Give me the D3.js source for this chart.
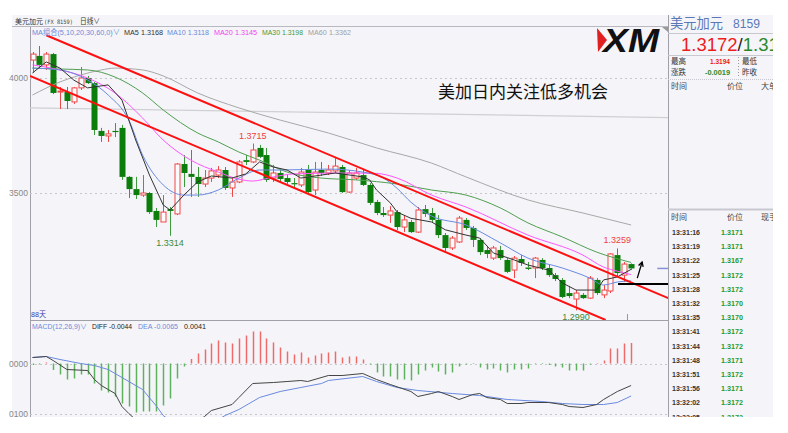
<!DOCTYPE html>
<html><head><meta charset="utf-8">
<script src="https://cdn.jsdelivr.net/npm/d3@7"></script>
<style>
body{margin:0;background:#fff;}
svg{display:block;font-family:"Liberation Sans","Noto Sans CJK SC",sans-serif;}
</style></head><body>
<svg id="c" width="788" height="433"></svg>
<script>
// ---------- DATA ----------
const open = [1.4078,1.4096,1.4057,1.4104,1.3939,1.3939,1.3896,1.3957,1.4000,1.3978,
1.3770,1.3748,1.3770,1.3783,1.3570,1.3517,1.3491,1.3500,1.3422,1.3374,
1.3430,1.3409,1.3626,1.3583,1.3570,1.3539,1.3565,1.3578,1.3600,1.3522,
1.3548,1.3643,1.3635,1.3696,1.3665,1.3565,1.3587,1.3565,1.3543,1.3535,
1.3600,1.3513,1.3600,1.3587,1.3596,1.3613,1.3504,1.3565,1.3578,1.3535,
1.3461,1.3413,1.3404,1.3417,1.3352,1.3374,1.3330,1.3430,1.3413,1.3383,
1.3317,1.3261,1.3287,1.3383,1.3348,1.3296,1.3252,1.3217,1.3252,1.3209,
1.3165,1.3213,1.3176,1.3174,1.3209,1.3174,1.3143,1.3122,1.3065,1.3039,
1.3057,1.3043,1.3122,1.3057,1.3074,1.3230,1.3143,1.3191];
const high = [1.4113,1.4139,1.4113,1.4109,1.3961,1.3961,1.3961,1.4048,1.4009,1.3983,
1.3783,1.3774,1.3804,1.3796,1.3574,1.3570,1.3578,1.3504,1.3435,1.3491,
1.3439,1.3630,1.3665,1.3687,1.3613,1.3600,1.3609,1.3617,1.3613,1.3565,
1.3643,1.3665,1.3715,1.3709,1.3696,1.3622,1.3600,1.3578,1.3565,1.3609,
1.3622,1.3635,1.3635,1.3622,1.3657,1.3622,1.3600,1.3609,1.3600,1.3543,
1.3470,1.3439,1.3443,1.3426,1.3404,1.3383,1.3439,1.3448,1.3435,1.3404,
1.3326,1.3313,1.3400,1.3391,1.3357,1.3304,1.3270,1.3270,1.3270,1.3217,
1.3226,1.3230,1.3200,1.3222,1.3217,1.3187,1.3152,1.3130,1.3096,1.3078,
1.3065,1.3139,1.3130,1.3100,1.3239,1.3259,1.3200,1.3194];
const low = [1.4022,1.4043,1.4035,1.3930,1.3865,1.3865,1.3887,1.3948,1.3974,1.3752,
1.3722,1.3722,1.3743,1.3557,1.3478,1.3474,1.3483,1.3409,1.3352,1.3374,
1.3314,1.3404,1.3526,1.3483,1.3483,1.3526,1.3548,1.3565,1.3513,1.3483,
1.3543,1.3622,1.3630,1.3652,1.3548,1.3548,1.3548,1.3539,1.3522,1.3526,
1.3491,1.3491,1.3574,1.3578,1.3587,1.3500,1.3500,1.3557,1.3530,1.3448,
1.3404,1.3396,1.3370,1.3339,1.3330,1.3326,1.3326,1.3396,1.3374,1.3304,
1.3243,1.3252,1.3283,1.3339,1.3265,1.3230,1.3217,1.3209,1.3209,1.3152,
1.3130,1.3183,1.3165,1.3130,1.3165,1.3135,1.3117,1.3043,1.3043,1.2990,
1.3039,1.3039,1.3057,1.3043,1.3065,1.3139,1.3113,1.3165];
const close = [1.4104,1.4057,1.4104,1.3935,1.3943,1.3900,1.3957,1.4000,1.3978,1.3774,
1.3748,1.3757,1.3765,1.3570,1.3517,1.3491,1.3500,1.3417,1.3383,1.3417,
1.3422,1.3626,1.3587,1.3570,1.3539,1.3565,1.3596,1.3600,1.3522,1.3548,
1.3635,1.3635,1.3687,1.3657,1.3557,1.3587,1.3561,1.3548,1.3539,1.3591,
1.3504,1.3591,1.3587,1.3600,1.3617,1.3504,1.3587,1.3587,1.3535,1.3457,
1.3413,1.3404,1.3422,1.3352,1.3383,1.3330,1.3426,1.3409,1.3383,1.3317,
1.3261,1.3304,1.3391,1.3348,1.3296,1.3243,1.3235,1.3261,1.3217,1.3157,
1.3217,1.3196,1.3170,1.3217,1.3174,1.3143,1.3126,1.3048,1.3052,1.3065,
1.3043,1.3130,1.3065,1.3078,1.3235,1.3152,1.3191,1.3172];

// moving averages: [candle index, value]
const ma5 = [[0,1.4022],[2,1.4070],[4,1.4043],[6,1.3991],[8,1.3957],[11,1.3970],[13,1.3904],[15,1.3730],[17,1.3578],[19,1.3448],[20,1.3426],[22,1.3491],[24,1.3548],[26,1.3574],[29,1.3565],[31,1.3583],[33,1.3635],[35,1.3613],[37,1.3600],[39,1.3565],[42,1.3578],[44,1.3587],[48,1.3570],[49,1.3557],[50,1.3513],[52,1.3457],[53,1.3417],[55,1.3390],[58,1.3374],[60,1.3340],[63,1.3317],[65,1.3304],[67,1.3239],[70,1.3209],[72,1.3187],[75,1.3165],[77,1.3109],[79,1.3078],[82,1.3078],[83,1.3122],[85,1.3135],[87,1.3168]];
const ma10 = [[0,1.4043],[4,1.4035],[8,1.3991],[11,1.3926],[14,1.3817],[16,1.3665],[19,1.3535],[22,1.3491],[24,1.3491],[27,1.3513],[30,1.3565],[33,1.3600],[36,1.3600],[43,1.3604],[48,1.3591],[51,1.3565],[53,1.3520],[55,1.3460],[58,1.3400],[63,1.3361],[68,1.3283],[72,1.3217],[77,1.3174],[81,1.3130],[83,1.3100],[85,1.3113],[87,1.3118]];
const ma20 = [[0,1.4057],[4,1.4035],[8,1.4000],[12,1.3935],[16,1.3826],[19,1.3730],[23,1.3643],[27,1.3591],[30,1.3560],[32,1.3552],[35,1.3570],[38,1.3583],[45,1.3587],[50,1.3585],[53,1.3565],[58,1.3491],[63,1.3439],[72,1.3317],[80,1.3230],[83,1.3178],[85,1.3160],[87,1.3145]];
const ma30 = [[0,1.4043],[4,1.4039],[8,1.4035],[12,1.4004],[16,1.3935],[19,1.3861],[24,1.3761],[27,1.3722],[30,1.3678],[33,1.3643],[37,1.3591],[42,1.3565],[47,1.3557],[53,1.3539],[58,1.3513],[63,1.3491],[68,1.3435],[72,1.3370],[77,1.3309],[82,1.3243],[87,1.3198]];
const ma60 = [[0,1.3926],[4,1.3983],[7,1.4013],[10,1.4035],[12,1.4043],[16,1.4035],[19,1.4009],[24,1.3935],[30,1.3870],[36,1.3817],[43,1.3761],[50,1.3696],[58,1.3630],[63,1.3570],[72,1.3470],[80,1.3413],[87,1.3361]];

// MACD
const macdHist = [-0.0003,-0.0002,0.0002,-0.0013,-0.0022,-0.0032,-0.0030,-0.0022,-0.0022,-0.0040,
-0.0054,-0.0058,-0.0066,-0.0080,-0.0086,-0.0098,-0.0096,-0.0096,-0.0096,-0.0084,
-0.0070,-0.0030,-0.0006,0.0009,0.0020,0.0028,0.0040,0.0046,0.0042,0.0040,
0.0050,0.0056,0.0064,0.0064,0.0050,0.0042,0.0032,0.0024,0.0018,0.0022,
0.0012,0.0016,0.0020,0.0022,0.0024,0.0012,0.0014,0.0014,0.0008,-0.0002,
-0.0018,-0.0026,-0.0026,-0.0032,-0.0032,-0.0034,-0.0022,-0.0014,-0.0008,-0.0016,
-0.0022,-0.0018,-0.0006,-0.0002,-0.0001,-0.0008,-0.0012,-0.0010,-0.0014,-0.0018,
-0.0012,-0.0012,-0.0010,-0.0001,-0.0001,-0.0003,-0.0006,-0.0008,-0.0014,-0.0014,
-0.0014,-0.0002,0.0001,0.0006,0.0030,0.0030,0.0040,0.0041];
const diff = [[0,0.0012],[2,0.0014],[3,0.0006],[5,-0.0012],[8,-0.0014],[9,-0.0032],[10,-0.0044],[11,-0.0052],[12,-0.0060],[13,-0.0086],[14,-0.0100],[16,-0.0125],[18,-0.0138],[20,-0.0145],[22,-0.0135],[24,-0.0115],[25,-0.0106],[26,-0.0094],[29,-0.0082],[30,-0.0068],[32,-0.0040],[35,-0.0038],[37,-0.0036],[39,-0.0034],[40,-0.0036],[43,-0.0024],[45,-0.0024],[48,-0.0020],[50,-0.0032],[52,-0.0042],[55,-0.0056],[56,-0.0066],[58,-0.0060],[59,-0.0056],[61,-0.0066],[62,-0.0072],[64,-0.0062],[65,-0.0060],[66,-0.0068],[68,-0.0072],[69,-0.0080],[71,-0.0080],[72,-0.0078],[75,-0.0078],[77,-0.0082],[78,-0.0086],[80,-0.0088],[82,-0.0082],[83,-0.0072],[84,-0.0064],[85,-0.0056],[87,-0.0044]];
const dea = [[0,0.0012],[2,0.0014],[4,0.0008],[7,0.0000],[9,-0.0004],[11,-0.0012],[13,-0.0028],[14,-0.0036],[16,-0.0052],[18,-0.0085],[19,-0.0104],[21,-0.0125],[23,-0.0132],[25,-0.0128],[27,-0.0112],[28,-0.0104],[30,-0.0092],[33,-0.0068],[36,-0.0056],[39,-0.0048],[42,-0.0040],[43,-0.0034],[48,-0.0026],[50,-0.0036],[53,-0.0048],[56,-0.0054],[61,-0.0060],[65,-0.0064],[69,-0.0072],[74,-0.0076],[77,-0.0080],[80,-0.0082],[83,-0.0082],[85,-0.0078],[87,-0.0065]];

// annotations (index, price)
const channelUpper = [[2,1.4186],[92.4,1.3043]];
const channelLower = [[-0.36,1.4009],[83.3,1.2948]];
const refLine = [[-0.4,1.3870],[92.4,1.3828]];
const supportLine = [[85.1,1.3104],[92.4,1.3104]];
const lastPriceLine = [[90.8,1.3172],[92.4,1.3172]];
const arrowPts = [[87.9,1.3130],[88.6,1.3200]];
const priceTicks = [1.40,1.35];
const macdTicks = [0,-0.01];
const extremeLabels = [{i:32,v:1.3715,t:"high"},{i:20,v:1.3314,t:"low"},{i:85,v:1.3259,t:"high"},{i:79,v:1.2990,t:"low"}];

const maLegend = [["MA5 1.3168","#333"],["MA10 1.3118","#6a8ad8"],["MA20 1.3145","#ee44ee"],["MA30 1.3198","#3f9a3f"],["MA60 1.3362","#a0a0a0"]];
const tickTimes = ["13:31:16","13:31:19","13:31:22","13:31:25","13:31:28","13:31:32","13:31:35","13:31:41","13:31:44","13:31:48","13:31:51","13:31:56","13:32:02","13:32:05"];
const tickPrices = ["1.3171","1.3171","1.3167","1.3172","1.3172","1.3170","1.3170","1.3172","1.3172","1.3171","1.3172","1.3171","1.3172","1.3172"];

// ---------- DRAW ----------
const svg = d3.select("#c");
const BG = "#f5f5f9";
const x = d3.scaleLinear().domain([0,87]).range([32.5,631.1]);
const yP = d3.scaleLinear().domain([1.40,1.35]).range([78,193]);
const yM = d3.scaleLinear().domain([0,-0.01]).range([363.5,413.5]);
const L = 30, R = 668;

function txt(g,xx,yy,s,size,col,len,fam){
  const t = g.append("text").attr("x",xx).attr("y",yy).attr("font-size",size).attr("fill",col).text(s);
  if(len) t.attr("textLength",len).attr("lengthAdjust","spacingAndGlyphs");
  if(fam) t.attr("font-family",fam);
  return t;
}

svg.append("rect").attr("x",12).attr("y",15).attr("width",761).attr("height",402).attr("fill",BG);

const defs = svg.append("defs");
defs.append("clipPath").attr("id","cp").append("rect").attr("x",L).attr("y",27).attr("width",R-L).attr("height",293);
defs.append("clipPath").attr("id","cm").append("rect").attr("x",L).attr("y",321).attr("width",R-L).attr("height",96);

// header
txt(svg,15,24,"美元加元",7,"#333",28,"Noto Sans CJK SC");
txt(svg,44,24,"(FX 8159)",6,"#444",29,"DejaVu Sans Mono");
txt(svg,80,24,"日线∨",7.5,"#333",20,"Noto Sans CJK SC");
svg.append("line").attr("x1",12).attr("x2",R).attr("y1",26.5).attr("y2",26.5).attr("stroke","#b8b8c0");

// axes lines
svg.append("line").attr("x1",L+0.5).attr("x2",L+0.5).attr("y1",27).attr("y2",417).attr("stroke","#a0a0a8");
svg.append("line").attr("x1",R+0.5).attr("x2",R+0.5).attr("y1",15).attr("y2",417).attr("stroke","#a0a0a8");
svg.append("line").attr("x1",L).attr("x2",R).attr("y1",320.5).attr("y2",320.5).attr("stroke","#a0a0a8");

// price grid + labels
const gP = svg.append("g");
priceTicks.forEach(t=>{
  gP.append("line").attr("x1",L).attr("x2",R).attr("y1",Math.round(yP(t))+0.5).attr("y2",Math.round(yP(t))+0.5)
    .attr("stroke","#c8c8cc").attr("stroke-dasharray","2,3");
  gP.append("text").attr("x",28).attr("y",yP(t)+3).attr("text-anchor","end").attr("font-size",8.5)
    .attr("fill","#888").text(d3.format(".4f")(t).slice(2));
});
macdTicks.forEach(t=>{
  gP.append("line").attr("x1",L).attr("x2",R).attr("y1",Math.round(yM(t))+0.5).attr("y2",Math.round(yM(t))+0.5)
    .attr("stroke","#c8c8cc").attr("stroke-dasharray","2,3");
  gP.append("text").attr("x",28).attr("y",yM(t)+3).attr("text-anchor","end").attr("font-size",8.5)
    .attr("fill","#888").text(d3.format(".4f")(Math.abs(t)).slice(2));
});

const pc = svg.append("g").attr("clip-path","url(#cp)");
const lineP = d3.line().x(d=>x(d[0])).y(d=>yP(d[1]));
pc.append("path").attr("d",lineP(refLine)).attr("stroke","#d0d0d4").attr("stroke-width",1.2).attr("fill","none");

// candles
const idx = d3.range(open.length);
const cg = pc.append("g");
idx.forEach(i=>{
  const up = close[i] >= open[i];
  const col = up ? "#f04848" : "#0b7d0b";
  const cx = Math.round(x(i))+0.5;
  const top = yP(Math.max(open[i],close[i])), bot = yP(Math.min(open[i],close[i]));
  cg.append("line").attr("x1",cx).attr("x2",cx).attr("y1",yP(high[i])).attr("y2",top).attr("stroke",up?col:"#3c9a3c");
  cg.append("line").attr("x1",cx).attr("x2",cx).attr("y1",bot).attr("y2",yP(low[i])).attr("stroke",up?col:"#3c9a3c");
  if(up){
    cg.append("rect").attr("x",cx-2.5).attr("y",top).attr("width",5).attr("height",Math.max(1,bot-top))
      .attr("fill","#fbfbfd").attr("stroke",col).attr("stroke-width",1);
  } else {
    cg.append("rect").attr("x",cx-3).attr("y",top).attr("width",6).attr("height",Math.max(1.2,bot-top)).attr("fill",col);
  }
});

// moving averages
const maLine = d3.line().x(d=>x(d[0])).y(d=>yP(d[1])).curve(d3.curveMonotoneX);
[[ma60,"#a8a8a8"],[ma30,"#4f9f4f"],[ma20,"#ff55ff"],[ma10,"#6a8ae0"]].forEach(([d,c])=>{
  pc.append("path").attr("d",maLine(d)).attr("fill","none").attr("stroke",c).attr("stroke-width",1);
});
pc.append("path").attr("d",d3.line().x(d=>x(d[0])).y(d=>yP(d[1]))(ma5)).attr("fill","none").attr("stroke","#333").attr("stroke-width",1);

// channel lines
[channelUpper,channelLower].forEach(d=>{
  pc.append("path").attr("d",lineP(d)).attr("stroke","#ff1010").attr("stroke-width",2).attr("fill","none");
});
pc.append("path").attr("d",lineP(supportLine)).attr("stroke","#000").attr("stroke-width",2);
pc.append("path").attr("d",lineP(lastPriceLine)).attr("stroke","#8890d8").attr("stroke-width",1.5);
{
  const [a,b] = arrowPts;
  const x1=x(a[0]),y1=yP(a[1]),x2=x(b[0]),y2=yP(b[1]);
  pc.append("line").attr("x1",x1).attr("y1",y1).attr("x2",x2).attr("y2",y2).attr("stroke","#000").attr("stroke-width",1.3);
  const ang=Math.atan2(y2-y1,x2-x1), hl=5;
  const p1=[x2-hl*Math.cos(ang-0.5),y2-hl*Math.sin(ang-0.5)], p2=[x2-hl*Math.cos(ang+0.5),y2-hl*Math.sin(ang+0.5)];
  pc.append("path").attr("d",`M${p1}L${x2},${y2}L${p2}`).attr("stroke","#000").attr("stroke-width",1.3).attr("fill","none");
}
pc.append("line").attr("x1",627.5).attr("x2",627.5).attr("y1",314).attr("y2",320).attr("stroke","#999");

// extreme labels
extremeLabels.forEach(e=>{
  const isH = e.t==="high";
  pc.append("text").attr("x",x(e.i)).attr("y",isH? yP(e.v)-5 : yP(e.v)+10).attr("text-anchor","middle")
    .attr("font-size",9).attr("fill",isH?"#ee4040":"#3a8a3a").text(e.v.toFixed(4));
});

// annotation
txt(svg,438,98,"美加日内关注低多机会",17,"#111",null,"Noto Sans CJK SC");

// XM logo
svg.append("polygon").attr("points","597,28 607,40 598,52").attr("fill","#e02020");
svg.append("text").attr("x",603).attr("y",52).attr("font-size",33).attr("font-weight","bold").attr("font-style","italic")
  .attr("font-family","Liberation Sans").attr("textLength",56).attr("lengthAdjust","spacingAndGlyphs").attr("fill","#111").text("XM");
svg.append("polygon").attr("points","662,27 668,27 668,32").attr("fill","#999");

// MA legend
txt(svg,32,35,"MA组合(5,10,20,30,60,0)∨",7.6,"#6a8ad8",88);
const legX=[124,167,214,262,308], legW=[39,42,43,41,43];
maLegend.forEach((m,k)=> txt(svg,legX[k],35,m[0],7.4,m[1],legW[k]));

txt(svg,31,317,"88天",8,"#3a3ab0",15);

// MACD legend
txt(svg,32,329,"MACD(12,26,9)∨",7.2,"#6a8ad8",55);
txt(svg,92,329,"DIFF -0.0044",6.8,"#222",40);
txt(svg,138,329,"DEA -0.0065",7.2,"#6a8ad8",40);
txt(svg,184,329,"0.0041",7.2,"#222",22);

// MACD
const mc = svg.append("g").attr("clip-path","url(#cm)");
macdHist.forEach((v,i)=>{
  const cx = Math.round(x(i))+0.5;
  mc.append("line").attr("x1",cx).attr("x2",cx).attr("y1",yM(0)).attr("y2",yM(v))
    .attr("stroke", v>=0 ? "#f06a6a" : "#5db35d").attr("stroke-width",1.5);
});
const lineM = d3.line().x(d=>x(d[0])).y(d=>yM(d[1]));
mc.append("path").attr("d",lineM(dea)).attr("fill","none").attr("stroke","#6a8ae0").attr("stroke-width",1);
mc.append("path").attr("d",lineM(diff)).attr("fill","none").attr("stroke","#444").attr("stroke-width",1);

// ---------- RIGHT PANEL ----------
const rp = svg.append("g");
txt(rp,670,28,"美元加元",13.5,"#5a78b8",53,"Noto Sans CJK SC");
txt(rp,733,28,"8159",13.5,"#5a78b8",27);
rp.append("line").attr("x1",668).attr("x2",773).attr("y1",33.5).attr("y2",33.5).attr("stroke","#c8c8d0");
const big = rp.append("text").attr("x",681).attr("y",51).attr("font-size",18.5);
big.append("tspan").attr("fill","#ee1c1c").text("1.3172");
big.append("tspan").attr("fill","#222").text("/");
big.append("tspan").attr("fill","#2a8a2a").text("1.31");
rp.append("line").attr("x1",668).attr("x2",773).attr("y1",55.5).attr("y2",55.5).attr("stroke","#c8c8d0");
const cj = (t,xx,yy,c)=>txt(rp,xx,yy,t,7.5,c||"#333",15,"Noto Sans CJK SC");
cj("最高",671,64); cj("最低",742,64); cj("涨跌",671,75); cj("昨收",742,75);
txt(rp,710,64,"1.3194",7,"#ee2020",20).attr("font-weight","bold");
txt(rp,705,75,"-0.0019",7,"#2a8a2a",25).attr("font-weight","bold");
rp.append("line").attr("x1",738.5).attr("x2",738.5).attr("y1",57).attr("y2",78).attr("stroke","#999").attr("stroke-dasharray","1,2");
rp.append("line").attr("x1",668).attr("x2",773).attr("y1",79.5).attr("y2",79.5).attr("stroke","#c8c8d0").attr("stroke-dasharray","1,1");
const hd = (t,xx,yy)=>txt(rp,xx,yy,t,8,"#444",16,"Noto Sans CJK SC");
hd("时间",671,89); hd("价位",727,89); hd("大单",761,89);
rp.append("line").attr("x1",668).attr("x2",773).attr("y1",209.5).attr("y2",209.5).attr("stroke","#c8c8d0").attr("stroke-width",2);
hd("时间",671,220); hd("价位",727,220); hd("现手",761,220);
tickTimes.forEach((t,k)=>{
  const yy = 235 + k*14.2;
  txt(rp,672,yy,t,7.5,"#333",28).attr("font-weight","bold");
  txt(rp,721,yy,tickPrices[k],7.5,"#2a9a2a",22).attr("font-weight","bold");
});
rp.append("rect").attr("x",773).attr("y",15).attr("width",15).attr("height",418).attr("fill","#fff");
svg.append("rect").attr("x",0).attr("y",417).attr("width",788).attr("height",16).attr("fill","#fff");
</script>
</body></html>
